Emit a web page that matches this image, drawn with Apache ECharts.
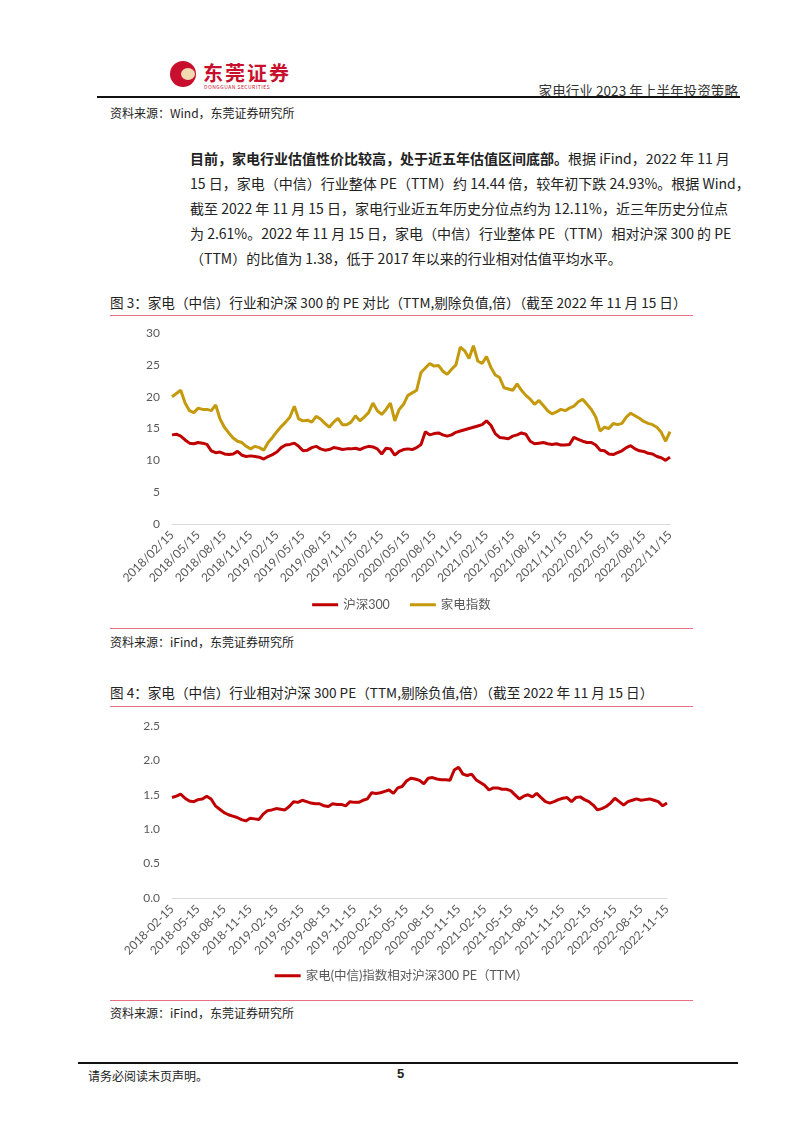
<!DOCTYPE html>
<html>
<head>
<meta charset="utf-8">
<title>家电行业2023年上半年投资策略</title>
<script src="https://cdn.jsdelivr.net/npm/echarts@6/dist/echarts.min.js"></script>
<style>
  body { margin: 0; background: #fff; }
  #page { position: relative; width: 802px; height: 1133px; font-family: "Noto Sans CJK SC", sans-serif; color: #222; }
  .abs { position: absolute; white-space: nowrap; }
  .src { font-size: 12px; color: #222; }
  .ttl { font-size: 13.6px; color: #222; }
  .pline { position: absolute; left: 110px; width: 583px; height: 1px; background: #E57383; }
  .para div { position: absolute; left: 190px; width: 522px; font-size: 14px; text-align: justify; text-align-last: justify; white-space: nowrap; }
</style>
</head>
<body>
<div id="page">
  <!-- 页眉 -->
  <div class="abs" style="left:170px;top:61px;width:26px;height:26px;border-radius:50%;background:#C8102E;"></div>
  <div class="abs" style="left:181px;top:68px;width:14px;height:12px;border-radius:50%;background:#F3D9B0;"></div>
  <div class="abs" style="left:203px;top:58px;font-size:20px;font-weight:bold;color:#C8102E;letter-spacing:2px;">东莞证券</div>
  <div class="abs" style="left:204px;top:83px;font-size:5px;color:#C8102E;letter-spacing:0.5px;">DONGGUAN SECURITIES</div>
  <div class="abs" style="right:64px;top:80px;font-size:13.6px;color:#333;">家电行业 2023 年上半年投资策略</div>
  <div class="abs" style="left:97px;top:96px;width:643px;height:2px;background:#111;"></div>
  <div class="abs src" style="left:110px;top:104px;">资料来源：Wind，东莞证券研究所</div>

  <!-- 正文 -->
  <div class="para">
    <div style="top:148px;"><b>目前，家电行业估值性价比较高，处于近五年估值区间底部。</b>根据 iFind，2022 年 11 月</div>
    <div style="top:173px;">15 日，家电（中信）行业整体 PE（TTM）约 14.44 倍，较年初下跌 24.93%。根据 Wind，</div>
    <div style="top:198px;">截至 2022 年 11 月 15 日，家电行业近五年历史分位点约为 12.11%，近三年历史分位点</div>
    <div style="top:223px;">为 2.61%。2022 年 11 月 15 日，家电（中信）行业整体 PE（TTM）相对沪深 300 的 PE</div>
    <div style="top:248px;text-align-last:left;">（TTM）的比值为 1.38，低于 2017 年以来的行业相对估值平均水平。</div>
  </div>

  <!-- 图3 -->
  <div class="abs ttl" style="left:110px;top:292px;">图 3：家电（中信）行业和沪深 300 的 PE 对比（TTM,剔除负值,倍）（截至 2022 年 11 月 15 日）</div>
  <div class="pline" style="top:315px;"></div>
  <div id="chart1" class="abs" style="left:110px;top:320px;width:583px;height:300px;"></div>
  <div class="pline" style="top:628px;"></div>
  <div class="abs src" style="left:110px;top:633px;">资料来源：iFind，东莞证券研究所</div>

  <!-- 图4 -->
  <div class="abs ttl" style="left:110px;top:682px;">图 4：家电（中信）行业相对沪深 300 PE（TTM,剔除负值,倍）（截至 2022 年 11 月 15 日）</div>
  <div class="pline" style="top:706px;"></div>
  <div id="chart2" class="abs" style="left:110px;top:715px;width:583px;height:275px;"></div>
  <div class="pline" style="top:1000px;"></div>
  <div class="abs src" style="left:110px;top:1004px;">资料来源：iFind，东莞证券研究所</div>

  <!-- 页脚 -->
  <div class="abs" style="left:78px;top:1062px;width:660px;height:2px;background:#111;"></div>
  <div class="abs src" style="left:88px;top:1067px;">请务必阅读末页声明。</div>
  <div class="abs" style="left:397px;top:1066px;font-size:13px;font-weight:bold;font-family:'Liberation Sans',sans-serif;">5</div>
</div>

<script>
	// 横轴显示的日期
	var tickLabels = ['2018-02-15', '2018-05-15', '2018-08-15', '2018-11-15', '2019-02-15', '2019-05-15', '2019-08-15',
		'2019-11-15', '2020-02-15', '2020-05-15', '2020-08-15', '2020-11-15', '2021-02-15', '2021-05-15', '2021-08-15',
		'2021-11-15', '2022-02-15', '2022-05-15', '2022-08-15', '2022-11-15'];

	// 半月一个点: 2018-02-15 ... 2022-11-15
	var dates = ['2018-02-15'];
	for (var y = 2018; y <= 2022; y++) {
		for (var m = (y === 2018 ? 3 : 1); m <= 12; m++) {
			if (y === 2022 && m > 11) break;
			var mm = (m < 10 ? '0' : '') + m;
			dates.push(y + '-' + mm + '-01');
			dates.push(y + '-' + mm + '-15');
		}
	}

	// 沪深300 PE(TTM)
	var hs300 = [14.0, 14.1, 13.8, 13.2, 12.7, 12.6, 12.8, 12.7, 12.5, 11.5,
		11.2, 11.3, 11.0, 10.9, 11.0, 11.4, 10.8, 10.6, 10.7, 10.6,
		10.5, 10.2, 10.6, 10.9, 11.3, 12.0, 12.4, 12.5, 12.7, 12.2,
		11.5, 11.6, 12.0, 12.2, 11.8, 11.6, 11.7, 12.0, 11.9, 11.7,
		11.8, 11.8, 11.9, 11.7, 12.0, 12.2, 12.1, 11.8, 11.0, 11.9,
		11.8, 10.8, 11.4, 11.7, 11.8, 11.7, 12.0, 12.5, 14.5, 14.0,
		14.2, 14.3, 14.0, 13.8, 14.0, 14.4, 14.6, 14.8, 15.0, 15.2,
		15.4, 15.6, 16.2, 15.5, 14.2, 13.6, 13.5, 13.4, 13.8, 14.0,
		14.3, 14.1, 13.0, 12.6, 12.7, 12.8, 12.6, 12.5, 12.6, 12.4,
		12.4, 12.5, 13.6, 13.3, 13.0, 12.8, 12.8, 12.4, 11.6, 11.5,
		11.0, 10.9, 11.2, 11.5, 12.0, 12.3, 11.8, 11.5, 11.4, 11.1,
		11.0, 10.6, 10.4, 10.0, 10.5];

	// 家电指数 PE(TTM)
	var jiadian = [20.0, 20.5, 21.0, 19.0, 17.8, 17.5, 18.2, 18.0, 18.0, 17.8,
		18.7, 16.5, 15.2, 14.3, 13.5, 13.0, 12.8, 12.2, 11.8, 12.2,
		12.0, 11.6, 12.8, 13.6, 14.5, 15.3, 16.0, 16.8, 18.5, 16.5,
		16.2, 16.3, 16.0, 16.9, 16.5, 15.8, 15.2, 16.0, 16.6, 15.6,
		15.6, 16.0, 17.0, 16.2, 16.8, 17.5, 19.0, 17.8, 17.2, 18.0,
		19.0, 16.2, 18.0, 18.8, 20.2, 20.6, 21.0, 23.8, 24.5, 25.2,
		24.8, 24.9, 24.0, 23.5, 24.3, 25.0, 27.8, 27.2, 26.0, 28.0,
		25.6, 25.2, 26.3, 24.6, 23.4, 23.0, 21.4, 21.2, 21.0, 22.0,
		21.0, 20.2, 19.6, 18.8, 19.4, 18.6, 17.8, 17.3, 17.6, 18.0,
		17.8, 18.2, 18.5, 19.2, 19.6, 18.8, 18.0, 16.8, 14.6, 15.2,
		15.0, 15.8, 15.6, 15.8, 16.8, 17.4, 17.0, 16.6, 16.1, 15.8,
		15.6, 15.2, 14.4, 13.0, 14.5];

	// 家电(中信)指数相对沪深300 PE
	var relPE = [1.46, 1.48, 1.51, 1.45, 1.41, 1.40, 1.43, 1.44, 1.48, 1.44,
		1.34, 1.29, 1.24, 1.21, 1.19, 1.17, 1.14, 1.12, 1.16, 1.15,
		1.14, 1.22, 1.27, 1.28, 1.30, 1.29, 1.28, 1.33, 1.40, 1.39,
		1.42, 1.40, 1.38, 1.37, 1.37, 1.34, 1.33, 1.37, 1.36, 1.36,
		1.34, 1.40, 1.39, 1.39, 1.42, 1.44, 1.53, 1.52, 1.53, 1.55,
		1.57, 1.52, 1.60, 1.62, 1.70, 1.74, 1.73, 1.71, 1.66, 1.74,
		1.75, 1.73, 1.72, 1.72, 1.71, 1.86, 1.90, 1.80, 1.78, 1.80,
		1.72, 1.68, 1.64, 1.57, 1.60, 1.60, 1.58, 1.58, 1.56, 1.50,
		1.44, 1.48, 1.50, 1.47, 1.52, 1.46, 1.40, 1.38, 1.40, 1.43,
		1.45, 1.46, 1.40, 1.46, 1.47, 1.43, 1.40, 1.35, 1.28, 1.30,
		1.33, 1.38, 1.45, 1.40, 1.35, 1.40, 1.42, 1.44, 1.42, 1.43,
		1.44, 1.42, 1.40, 1.34, 1.38];

	var axisFont = { color: '#595959', fontSize: 12, fontFamily: 'Lato, "Noto Sans CJK SC", sans-serif' };

	function xAxisOf(sep) {
		return {
			type: 'category',
			data: dates,
			boundaryGap: false,
			axisLine: { lineStyle: { color: '#D9D9D9', width: 1 } },
			axisTick: { show: false },
			axisLabel: {
				color: axisFont.color, fontSize: axisFont.fontSize, fontFamily: axisFont.fontFamily,
				rotate: 45, margin: 9,
				interval: function (idx, val) { return tickLabels.indexOf(val) >= 0; },
				formatter: function (val) { return val.replace(/-/g, sep); }
			}
		};
	}

	var chart1 = echarts.init(document.getElementById('chart1'));
	chart1.setOption({
		animation: false,
		grid: { left: 62, right: 23, top: 13, bottom: 96 },
		legend: {
			bottom: 4, left: 'center', itemWidth: 26, itemHeight: 3, itemGap: 20, icon: 'rect',
			textStyle: { color: '#595959', fontSize: 12.5, fontFamily: 'Lato, "Noto Sans CJK SC", sans-serif' }
		},
		xAxis: xAxisOf('/'),
		yAxis: {
			type: 'value', min: 0, max: 30, interval: 5,
			axisLine: { show: false }, axisTick: { show: false }, splitLine: { show: false },
			axisLabel: { color: axisFont.color, fontSize: axisFont.fontSize, fontFamily: axisFont.fontFamily, margin: 12 }
		},
		series: [
			{ name: '沪深300', type: 'line', data: hs300, showSymbol: false, lineStyle: { color: '#C00000', width: 3 }, itemStyle: { color: '#C00000' } },
			{ name: '家电指数', type: 'line', data: jiadian, showSymbol: false, lineStyle: { color: '#C49A0C', width: 3 }, itemStyle: { color: '#C49A0C' } }
		]
	});

	var chart2 = echarts.init(document.getElementById('chart2'));
	chart2.setOption({
		animation: false,
		grid: { left: 62, right: 26, top: 11, bottom: 92 },
		legend: {
			bottom: 3, left: 'center', itemWidth: 26, itemHeight: 3, icon: 'rect',
			textStyle: { color: '#595959', fontSize: 12.5, fontFamily: 'Lato, "Noto Sans CJK SC", sans-serif' }
		},
		xAxis: xAxisOf('-'),
		yAxis: {
			type: 'value', min: 0, max: 2.5, interval: 0.5,
			axisLine: { show: false }, axisTick: { show: false }, splitLine: { show: false },
			axisLabel: { color: axisFont.color, fontSize: axisFont.fontSize, fontFamily: axisFont.fontFamily, margin: 12,
				formatter: function (v) { return v.toFixed(1); } }
		},
		series: [
			{ name: '家电(中信)指数相对沪深300 PE（TTM）', type: 'line', data: relPE, showSymbol: false,
				lineStyle: { color: '#C00000', width: 3 }, itemStyle: { color: '#C00000' } }
		]
	});
</script>
</body>
</html>
